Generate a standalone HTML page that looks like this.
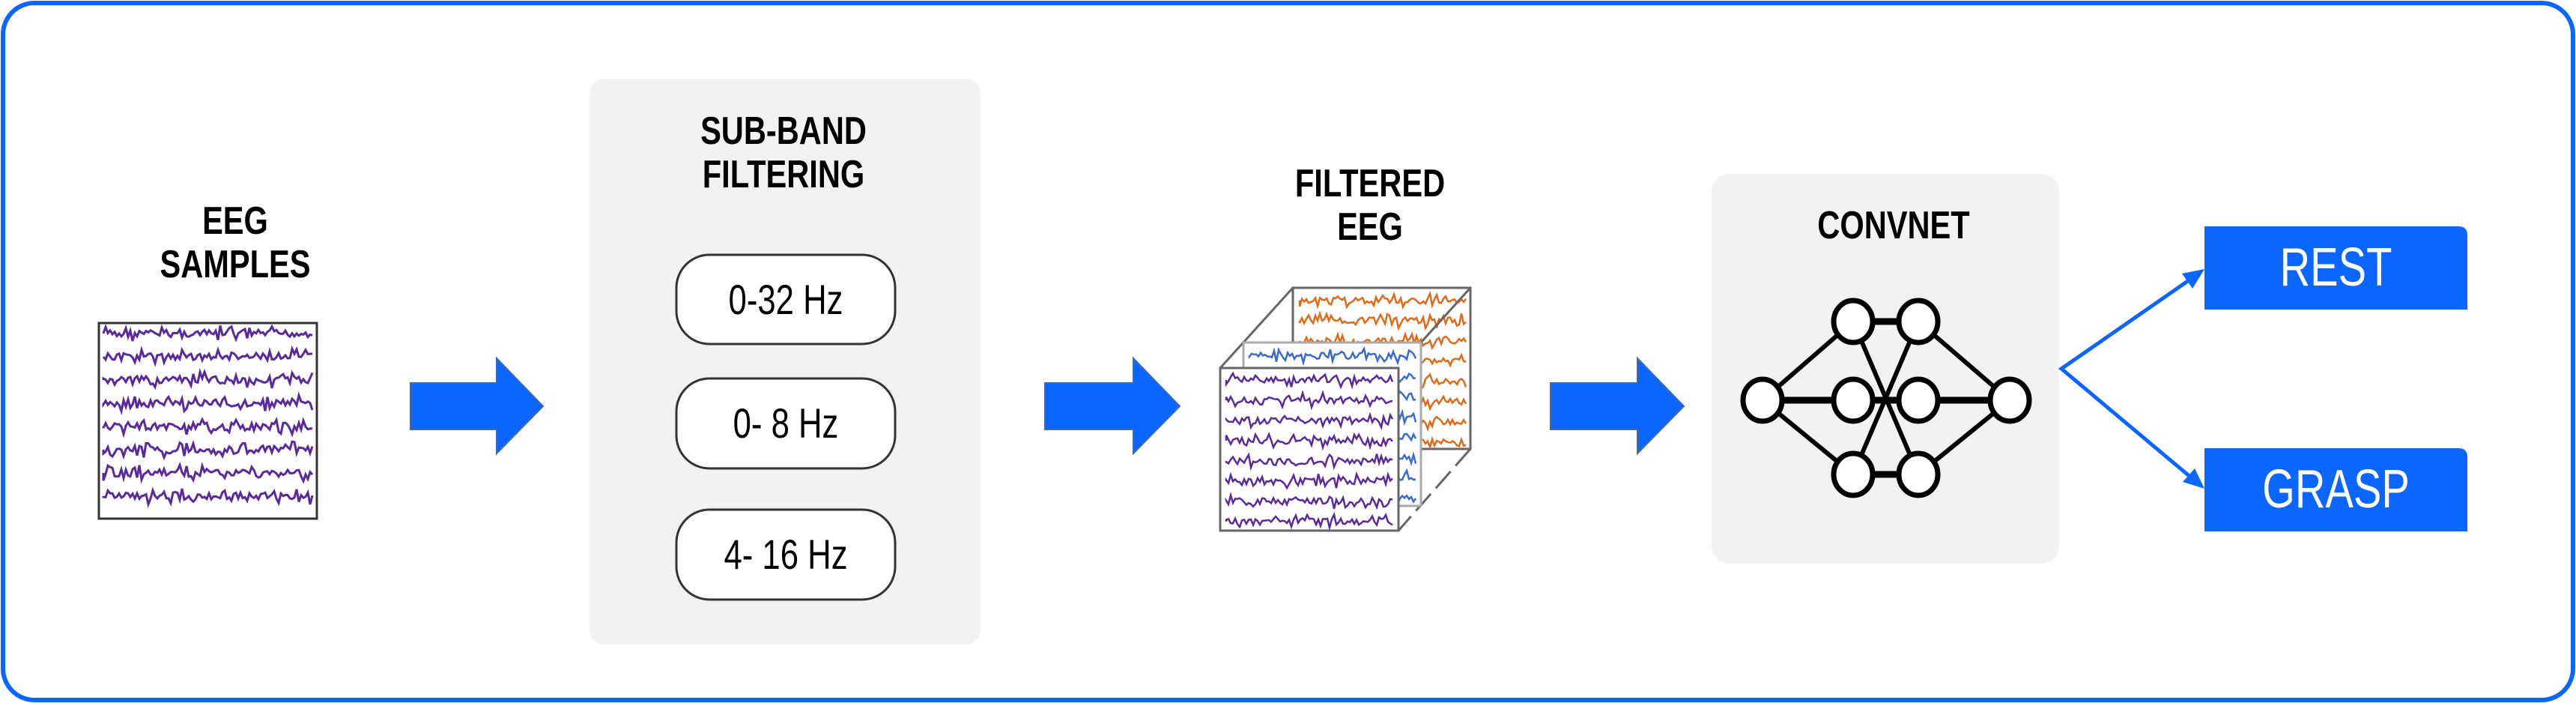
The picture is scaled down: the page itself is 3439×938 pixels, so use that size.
<!DOCTYPE html>
<html><head><meta charset="utf-8">
<style>
html,body{margin:0;padding:0;background:#fff;}
body{width:3439px;height:938px;position:relative;overflow:hidden;}
.t{position:absolute;font-family:"Liberation Sans",sans-serif;font-weight:bold;color:#000;text-align:center;font-size:52px;line-height:58px;transform:scaleX(0.8);transform-origin:center;}
.n{font-weight:normal;font-size:56px;line-height:60px;transform:scaleX(0.78);}
</style></head>
<body>
<svg width="3439" height="938" style="position:absolute;left:0;top:0" xmlns="http://www.w3.org/2000/svg">
<rect x="4" y="4" width="3431" height="930" rx="42" fill="#fff" stroke="#0a66ff" stroke-width="6"/>
<rect x="132" y="431" width="291" height="261" fill="#fff" stroke="#333" stroke-width="3"/>
<g id="eeg1" fill="none" stroke="#5a2a9a" stroke-width="3"></g>
<g fill="#0a66ff" stroke="#3d6aa8" stroke-width="2">
<polygon points="548,511 663,511 663,478 725,542 663,605 663,573 548,573"/>
<polygon points="1395,511 1513,511 1513,478 1575,542 1513,605 1513,573 1395,573"/>
<polygon points="2070,511 2186,511 2186,478 2248,542 2186,605 2186,573 2070,573"/>
</g>
<rect x="787" y="105" width="522" height="755" rx="20" fill="#f2f2f2"/>
<g fill="#fff" stroke="#333" stroke-width="3">
<rect x="903" y="340" width="292" height="119" rx="44"/>
<rect x="903" y="505" width="292" height="120" rx="44"/>
<rect x="903" y="680" width="292" height="120" rx="44"/>
</g>
<g stroke="#666" stroke-width="3" fill="#fff">
<rect x="1726" y="384" width="237" height="215"/>
<g id="eegB" fill="none" stroke="#e06a1a" stroke-width="2.5"></g>
<line x1="1629" y1="491" x2="1726" y2="384"/>
<line x1="1963" y1="384" x2="1897" y2="457"/>
<line x1="1963" y1="599" x2="1867" y2="708" stroke-dasharray="30 10"/>
<rect x="1660" y="457" width="237" height="218" fill="#fff" stroke="#aaa"/>
<g id="eegM" fill="none" stroke="#3a6ad0" stroke-width="2.5"></g>
<rect x="1629" y="491" width="238" height="217" fill="#fff"/>
<g id="eegF" fill="none" stroke="#5a2a9a" stroke-width="2.5"></g>
</g>
<rect x="2285" y="232" width="464" height="520" rx="24" fill="#f2f2f2"/>
<g stroke="#000" stroke-width="6" fill="none">
<line x1="2353" y1="534" x2="2474" y2="429"/><line x1="2353" y1="534" x2="2474" y2="534" stroke-width="9"/><line x1="2353" y1="534" x2="2474" y2="633"/>
<line x1="2474" y1="429" x2="2561" y2="429" stroke-width="9"/><line x1="2474" y1="534" x2="2561" y2="534" stroke-width="9"/><line x1="2474" y1="633" x2="2561" y2="633" stroke-width="9"/>
<line x1="2474" y1="429" x2="2561" y2="633"/><line x1="2474" y1="633" x2="2561" y2="429"/>
<line x1="2561" y1="429" x2="2683" y2="534"/><line x1="2561" y1="534" x2="2683" y2="534" stroke-width="9"/><line x1="2561" y1="633" x2="2683" y2="534"/>
</g>
<g stroke="#000" stroke-width="7" fill="#fff">
<ellipse cx="2353" cy="534" rx="26" ry="28"/>
<ellipse cx="2474" cy="429" rx="26" ry="28"/><ellipse cx="2474" cy="534" rx="26" ry="28"/><ellipse cx="2474" cy="633" rx="26" ry="28"/>
<ellipse cx="2561" cy="429" rx="26" ry="28"/><ellipse cx="2561" cy="534" rx="26" ry="28"/><ellipse cx="2561" cy="633" rx="26" ry="28"/>
<ellipse cx="2683" cy="534" rx="26" ry="28"/>
</g>
<polyline points="2925,372 2752,492 2925,637" fill="none" stroke="#0a66ff" stroke-width="5"/>
<polygon points="2943,359 2913,365 2927,385" fill="#0a66ff"/>
<polygon points="2943,652 2914,643 2930,625" fill="#0a66ff"/>
<path d="M2943,302 H3282 Q3294,302 3294,314 V413 H2943 Z" fill="#0a66ff"/>
<path d="M2943,598 H3282 Q3294,598 3294,610 V709 H2943 Z" fill="#0a66ff"/>
</svg>
<div class="t" style="left:164px;top:266px;width:300px;">EEG<br>SAMPLES</div>
<div class="t" style="left:896px;top:146px;width:300px;">SUB-BAND<br>FILTERING</div>
<div class="t" style="left:1679px;top:216px;width:300px;">FILTERED<br>EEG</div>
<div class="t" style="left:2378px;top:272px;width:300px;">CONVNET</div>
<div class="t n" style="left:903px;top:370px;width:292px;">0-32 Hz</div>
<div class="t n" style="left:903px;top:535px;width:292px;">0- 8 Hz</div>
<div class="t n" style="left:903px;top:710px;width:292px;">4- 16 Hz</div>
<div class="t n" style="left:2943px;top:322px;width:351px;font-size:72px;line-height:70px;color:#fff;">REST</div>
<div class="t n" style="left:2943px;top:618px;width:351px;font-size:72px;line-height:70px;color:#fff;">GRASP</div>
<script>
var seed=7;function r(){seed=(seed*9301+49297)%233280;return seed/233280;}
function fill(id,x0,x1,y0,dy,n,amp){var g=document.getElementById(id);var s="";
for(var i=0;i<n;i++){var y=y0+i*dy;var d="M"+x0+","+y;for(var x=x0;x<=x1;x+=3){d+=" L"+x+","+(y+(r()-0.5)*amp*(r()<0.3?2.2:1)).toFixed(1);}s+='<path d="'+d+'"/>';}
g.innerHTML=s;}
fill("eeg1",138,417,445,31,8,10);
fill("eegB",1735,1957,401,27,8,9);
fill("eegM",1668,1892,475,27,8,9);
fill("eegF",1637,1860,507,27,8,9);
</script>
</body></html>
